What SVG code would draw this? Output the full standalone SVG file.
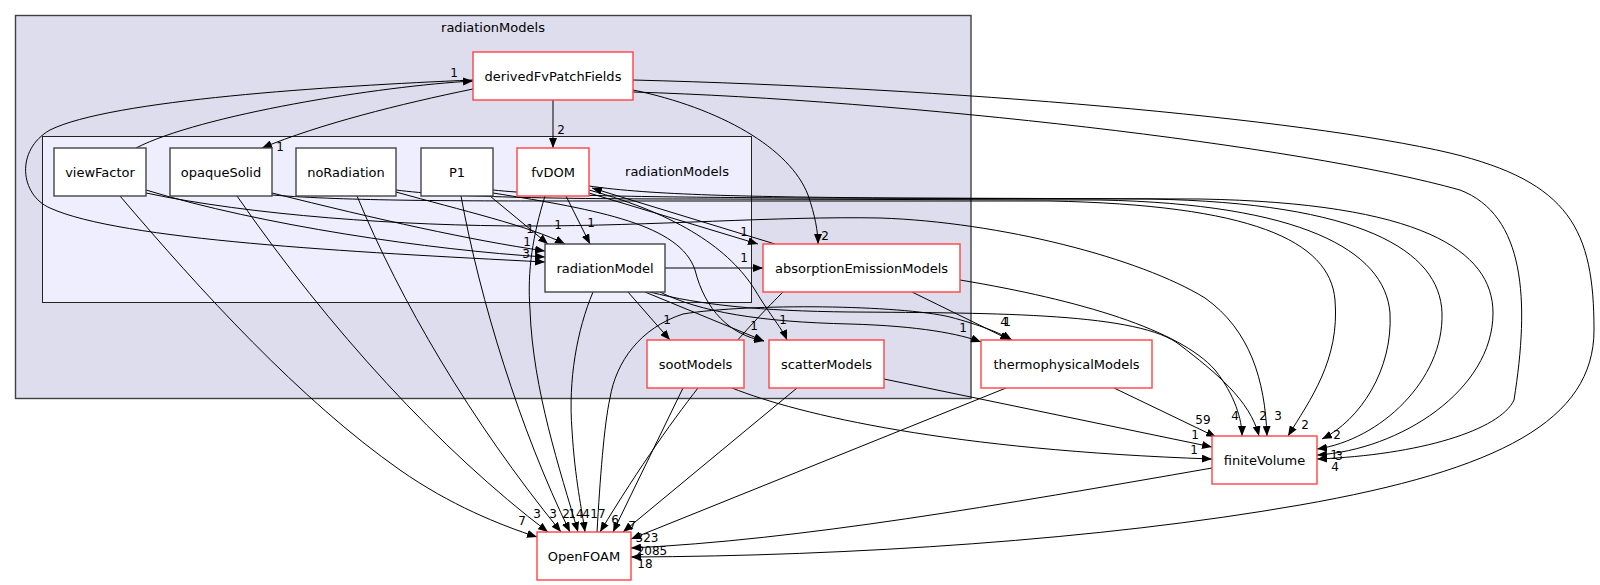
<svg xmlns="http://www.w3.org/2000/svg" width="1600" height="585" viewBox="0 0 1600 585">
<style>
text{font-family:"DejaVu Sans","Liberation Sans",sans-serif;font-size:13px;fill:#000}
.nt{text-anchor:middle}
.el{text-anchor:middle;font-size:12px}
.box{fill:#fff;stroke:#444;stroke-width:1.4}
.red{fill:#fff;stroke:#f44;stroke-width:1.4}
.e{fill:none;stroke:#000;stroke-width:1;marker-end:url(#ah)}
</style>
<defs>
<marker id="ah" markerUnits="userSpaceOnUse" markerWidth="10" markerHeight="8" refX="10" refY="4" orient="auto">
<path d="M0,0 L10,4 L0,8 z" fill="#000"/>
</marker>
</defs>
<rect width="1600" height="585" fill="#fff"/>
<g id="cluster_outer">
<rect x="15.5" y="15.5" width="955.5" height="383" fill="#ddddee" stroke="#404040" stroke-width="1.4"/>
<text class="nt" x="493" y="32">radiationModels</text>
</g>
<g id="cluster_inner">
<rect x="42.5" y="136.5" width="709" height="166" fill="#eeeeff" stroke="#222" stroke-width="1"/>
<text class="nt" x="677" y="175.5">radiationModels</text>
</g>
<g id="connectors">
<path class="e" d="M553,100 L553,148"/>
<path class="e" d="M136,148 C200,115 380,86 473,81"/>
<path class="e" d="M473,89 C400,104 320,124 262,148"/>
<path class="e" d="M473,80 C330,86 110,100 50,130 C15,150 20,195 50,208 C120,240 350,252 545,262"/>
<path class="e" d="M633,90 C720,108 790,148 808,195 C815,215 818,232 818,244"/>
<path class="e" d="M633,92 C900,100 1300,145 1460,190 C1525,215 1530,300 1514,400 C1500,430 1420,455 1317,459"/>
<path class="e" d="M633,80 C950,88 1300,118 1450,153 C1570,182 1594,230 1594,330 C1594,420 1500,470 1300,505 C1100,540 850,556 631,557"/>
<path class="e" d="M146,190 C260,225 430,250 545,257"/>
<path class="e" d="M120,196 C200,290 300,400 400,470 C450,505 500,525 537,537"/>
<path class="e" d="M146,193 C250,215 400,226 530,226 C650,226 780,216 880,218 C1000,222 1140,258 1205,298 C1250,330 1265,380 1267,436"/>
<path class="e" d="M272,193 C380,220 470,240 545,251"/>
<path class="e" d="M237,196 C330,330 440,450 548,532"/>
<path class="e" d="M272,195 C350,201 450,201 600,201 L1050,201 C1250,205 1330,240 1335,300 C1340,360 1310,400 1288,436"/>
<path class="e" d="M396,192 C460,210 530,226 565,244"/>
<path class="e" d="M357,196 C400,300 470,420 561,532"/>
<path class="e" d="M396,190 C450,197 550,199 700,199 L1100,200 C1300,204 1385,250 1390,313 C1393,370 1360,420 1322,439"/>
<path class="e" d="M490,196 L548,244"/>
<path class="e" d="M461,196 C480,300 520,430 570,532"/>
<path class="e" d="M493,193 C600,210 680,225 695,270 C705,310 730,335 764,341"/>
<path class="e" d="M493,190 C550,196 650,197 800,198 L1150,199 C1360,203 1440,250 1442,313 C1444,380 1380,440 1317,449"/>
<path class="e" d="M566,196 L590,244"/>
<path class="e" d="M545,196 C533,235 527,270 530,310 C533,390 560,470 578,532"/>
<path class="e" d="M589,193 L758,244"/>
<path class="e" d="M775,244 L592,188"/>
<path class="e" d="M589,190 C680,215 730,250 755,290 C770,315 783,330 787,340"/>
<path class="e" d="M589,186 C650,195 750,197 900,198 L1200,199 C1420,203 1493,250 1493,313 C1493,390 1400,450 1317,455"/>
<path class="e" d="M665,268 L763,268"/>
<path class="e" d="M628,292 L670,340"/>
<path class="e" d="M645,292 L764,341"/>
<path class="e" d="M660,292 C700,312 760,322 850,324 C920,326 960,334 981,342"/>
<path class="e" d="M593,292 C577,330 568,380 572,430 C575,480 582,510 585,532"/>
<path class="e" d="M650,292 C700,305 760,311 850,312 C1000,313 1140,313 1180,345 C1215,372 1250,400 1259,436"/>
<path class="e" d="M912,292 L1010,340"/>
<path class="e" d="M960,280 C1080,300 1180,330 1215,370 C1235,395 1242,420 1242,436"/>
<path class="e" d="M783,292 C740,335 680,400 600,532"/>
<path class="e" d="M597,532 C600,480 604,425 610,398 C616,362 640,328 683,314 C750,303 900,305 950,317 C980,325 1000,333 1012,340"/>
<path class="e" d="M732,388 C800,415 950,450 1212,459"/>
<path class="e" d="M683,388 L613,532"/>
<path class="e" d="M884,379 L1212,447"/>
<path class="e" d="M797,388 L623,532"/>
<path class="e" d="M1114,388 L1216,437"/>
<path class="e" d="M1006,388 L631,539"/>
<path class="e" d="M1212,468 C1000,505 800,540 631,548"/>
<g id="edge_labels">
<text class="el" x="561" y="133.5">2</text>
<text class="el" x="454" y="77">1</text>
<text class="el" x="280" y="151">1</text>
<text class="el" x="825" y="240">2</text>
<text class="el" x="1335" y="471">4</text>
<text class="el" x="645" y="568">18</text>
<text class="el" x="526" y="258">3</text>
<text class="el" x="522" y="525">7</text>
<text class="el" x="1278" y="420">3</text>
<text class="el" x="527" y="246">1</text>
<text class="el" x="537" y="518">3</text>
<text class="el" x="1305" y="429">2</text>
<text class="el" x="558" y="229">1</text>
<text class="el" x="553" y="518">3</text>
<text class="el" x="1337" y="439">2</text>
<text class="el" x="530" y="233">1</text>
<text class="el" x="566" y="518">2</text>
<text class="el" x="754" y="330">1</text>
<text class="el" x="1334" y="459">1</text>
<text class="el" x="591" y="227">1</text>
<text class="el" x="576" y="518">14</text>
<text class="el" x="744" y="236">1</text>
<text class="el" x="783" y="324">1</text>
<text class="el" x="1339" y="460">3</text>
<text class="el" x="744" y="262">1</text>
<text class="el" x="667" y="324">1</text>
<text class="el" x="963" y="332">1</text>
<text class="el" x="586" y="518">4</text>
<text class="el" x="1263" y="420">2</text>
<text class="el" x="1004" y="326">4</text>
<text class="el" x="1235" y="420">4</text>
<text class="el" x="598" y="518">17</text>
<text class="el" x="1007" y="326">1</text>
<text class="el" x="1194" y="454">1</text>
<text class="el" x="615" y="524">6</text>
<text class="el" x="1195" y="439">1</text>
<text class="el" x="632" y="530">7</text>
<text class="el" x="1203" y="424">59</text>
<text class="el" x="647" y="542">323</text>
<text class="el" x="652" y="555">2085</text>
</g>
</g>
<g id="node_derivedFvPatchFields"><rect class="red" x="473" y="52" width="160" height="48"/><text class="nt" x="553" y="80.5">derivedFvPatchFields</text></g>
<g id="node_viewFactor"><rect class="box" x="54" y="148" width="92" height="48"/><text class="nt" x="100" y="176.5">viewFactor</text></g>
<g id="node_opaqueSolid"><rect class="box" x="170" y="148" width="102" height="48"/><text class="nt" x="221" y="176.5">opaqueSolid</text></g>
<g id="node_noRadiation"><rect class="box" x="296" y="148" width="100" height="48"/><text class="nt" x="346" y="176.5">noRadiation</text></g>
<g id="node_P1"><rect class="box" x="421" y="148" width="72" height="48"/><text class="nt" x="457" y="176.5">P1</text></g>
<g id="node_fvDOM"><rect class="red" x="517" y="148" width="72" height="48"/><text class="nt" x="553" y="176.5">fvDOM</text></g>
<g id="node_radiationModel"><rect class="box" x="545" y="244" width="120" height="48"/><text class="nt" x="605" y="272.5">radiationModel</text></g>
<g id="node_absorptionEmissionModels"><rect class="red" x="763" y="244" width="197" height="48"/><text class="nt" x="861.5" y="272.5">absorptionEmissionModels</text></g>
<g id="node_sootModels"><rect class="red" x="647" y="340" width="97" height="48"/><text class="nt" x="695.5" y="368.5">sootModels</text></g>
<g id="node_scatterModels"><rect class="red" x="769" y="340" width="115" height="48"/><text class="nt" x="826.5" y="368.5">scatterModels</text></g>
<g id="node_thermophysicalModels"><rect class="red" x="981" y="340" width="171" height="48"/><text class="nt" x="1066.5" y="368.5">thermophysicalModels</text></g>
<g id="node_finiteVolume"><rect class="red" x="1212" y="436" width="105" height="48"/><text class="nt" x="1264.5" y="464.5">finiteVolume</text></g>
<g id="node_OpenFOAM"><rect class="red" x="537" y="532" width="94" height="48"/><text class="nt" x="584" y="560.5">OpenFOAM</text></g>
</svg>
